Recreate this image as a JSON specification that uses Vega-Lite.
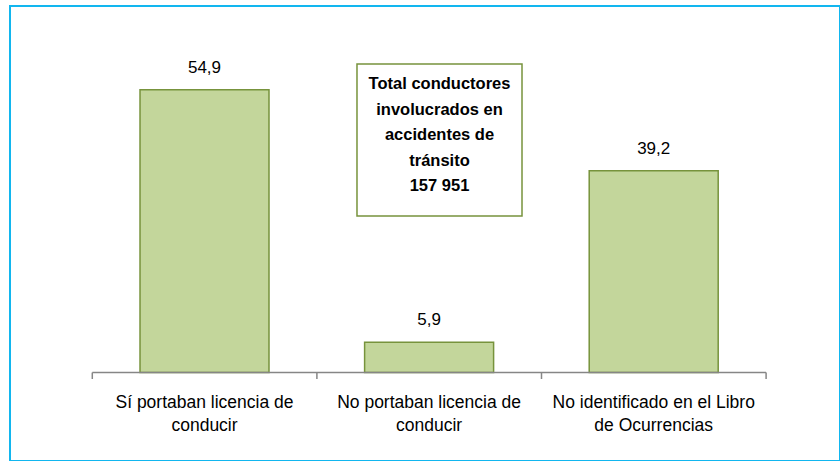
{
  "$schema": "https://vega.github.io/schema/vega-lite/v6.json",
  "width": 830,
  "height": 455,
  "autosize": {"type": "none"},
  "padding": {"left": 10, "top": 6, "right": 0, "bottom": 0},
  "background": "white",
  "config": {
    "view": {"stroke": "#12b6ef", "strokeWidth": 2},
    "font": "Liberation Sans",
    "locale": {"number": {"decimal": ",", "thousands": " ", "grouping": [3], "currency": ["", ""]}}
  },
  "layer": [
    {
      "data": {"values": [
        {"cat": "Sí portaban licencia de\nconducir", "pct": 54.9},
        {"cat": "No portaban licencia de\nconducir", "pct": 5.9},
        {"cat": "No identificado en el Libro\nde Ocurrencias", "pct": 39.2}
      ]},
      "encoding": {
        "x": {"field": "cat", "type": "nominal", "sort": null,
          "scale": {"paddingInner": 0.4257, "paddingOuter": 0.5606, "align": 0.5163},
          "axis": {"title": null, "orient": "bottom", "offset": -88.5, "domain": false, "ticks": false, "tickSize": 0,
            "labelAngle": 0, "labelPadding": 35, "labelBaseline": "alphabetic", "labelLineHeight": 23,
            "labelFont": "Liberation Sans", "labelFontSize": 17.5, "labelColor": "#000000", "labelLimit": 0,
            "labelExpr": "split(datum.label, '\\n')"}},
        "y": {"field": "pct", "type": "quantitative",
          "scale": {"domain": [-17.18, 71.17], "nice": false, "zero": false}, "axis": null}
      },
      "layer": [
        {"mark": {"type": "bar", "fill": "#c3d69b", "stroke": "#77933c", "strokeWidth": 1.5}},
        {"mark": {"type": "text", "baseline": "alphabetic", "dy": -16.7, "fontSize": 17, "font": "Liberation Sans", "color": "#000000"},
          "encoding": {"text": {"field": "pct", "type": "quantitative", "format": ".1f"}}}
      ]
    },
    {
      "layer": [
        {
          "data": {"values": [{"b": 0}, {"b": 1}, {"b": 2}, {"b": 3}]},
          "mark": {"type": "rule", "color": "#868686", "strokeWidth": 1.5},
          "encoding": {
            "x": {"field": "b", "type": "quantitative", "scale": {"domain": [-0.3664, 3.329], "nice": false, "zero": false}, "axis": null},
            "y": {"datum": 0, "type": "quantitative", "scale": {"domain": [-17.18, 71.17], "nice": false, "zero": false}, "axis": null},
            "y2": {"datum": -1.26}
          }
        },
        {
          "data": {"values": [{"b": 0}, {"b": 1}, {"b": 2}, {"b": 3}]},
          "mark": {"type": "rule", "color": "#868686", "strokeWidth": 1.5},
          "encoding": {
            "x": {"aggregate": "min", "field": "b", "type": "quantitative"},
            "x2": {"aggregate": "max", "field": "b"},
            "y": {"datum": 0, "type": "quantitative"}
          }
        },
        {
          "data": {"values": [{"note": "total"}]},
          "mark": {"type": "rect", "fill": "white", "stroke": "#77933c", "strokeWidth": 1.5},
          "encoding": {
            "x": {"datum": 1.1785, "type": "quantitative"},
            "x2": {"datum": 1.9132},
            "y": {"datum": 59.9, "type": "quantitative"},
            "y2": {"datum": 30.39}
          }
        },
        {
          "data": {"values": [{"note": "total"}]},
          "mark": {"type": "text", "align": "center", "baseline": "middle", "fontWeight": "bold", "fontSize": 16.5,
            "font": "Liberation Sans", "lineHeight": 25.5, "color": "#000000",
            "text": ["Total conductores", "involucrados en", "accidentes de", "tránsito", "157 951"]},
          "encoding": {
            "x": {"datum": 1.5459, "type": "quantitative"},
            "y": {"datum": 56.02, "type": "quantitative"}
          }
        }
      ]
    }
  ],
  "resolve": {"scale": {"x": "independent"}}
}
